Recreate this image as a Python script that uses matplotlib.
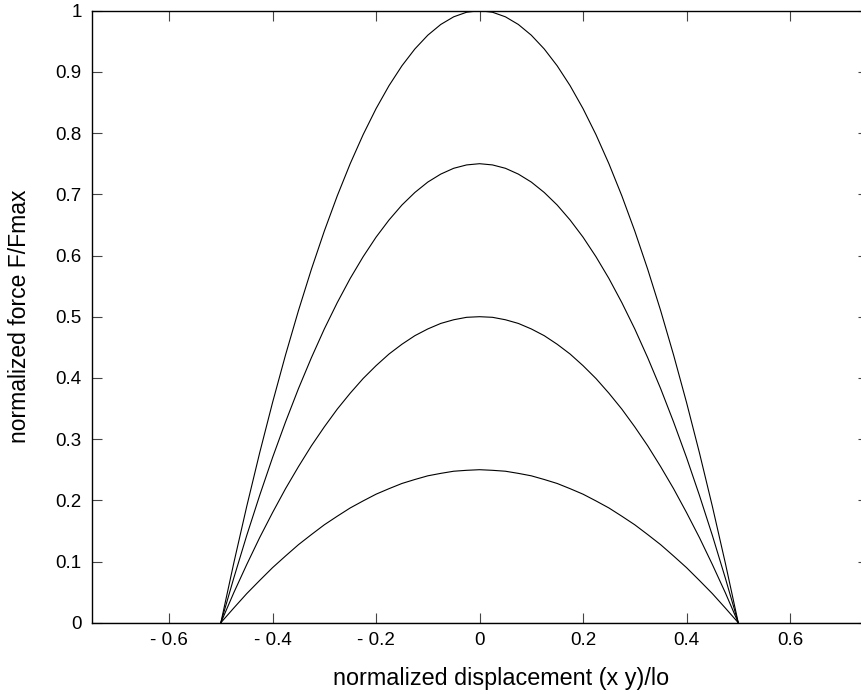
import matplotlib
matplotlib.use("Agg")
import matplotlib.pyplot as plt

# values, x step 0.025
x_curve = [-0.500, -0.475, -0.450, -0.425, -0.400, -0.375, -0.350, -0.325, -0.300, -0.275,
           -0.250, -0.225, -0.200, -0.175, -0.150, -0.125, -0.100, -0.075, -0.050, -0.025,
           0.000,
           0.025, 0.050, 0.075, 0.100, 0.125, 0.150, 0.175, 0.200, 0.225, 0.250,
           0.275, 0.300, 0.325, 0.350, 0.375, 0.400, 0.425, 0.450, 0.475, 0.500]
f_100 = [0.0, 0.0975, 0.19, 0.2775, 0.36, 0.4375, 0.51, 0.5775, 0.64, 0.6975,
         0.75, 0.7975, 0.84, 0.8775, 0.91, 0.9375, 0.96, 0.9775, 0.99, 0.9975,
         1.0,
         0.9975, 0.99, 0.9775, 0.96, 0.9375, 0.91, 0.8775, 0.84, 0.7975, 0.75,
         0.6975, 0.64, 0.5775, 0.51, 0.4375, 0.36, 0.2775, 0.19, 0.0975, 0.0]
f_075 = [0.0, 0.073, 0.1425, 0.208, 0.27, 0.328, 0.3825, 0.433, 0.48, 0.523,
         0.5625, 0.598, 0.63, 0.658, 0.6825, 0.703, 0.72, 0.733, 0.7425, 0.748,
         0.75,
         0.748, 0.7425, 0.733, 0.72, 0.703, 0.6825, 0.658, 0.63, 0.598, 0.5625,
         0.523, 0.48, 0.433, 0.3825, 0.328, 0.27, 0.208, 0.1425, 0.073, 0.0]
f_050 = [0.0, 0.049, 0.095, 0.139, 0.18, 0.219, 0.255, 0.289, 0.32, 0.349,
         0.375, 0.399, 0.42, 0.439, 0.455, 0.469, 0.48, 0.489, 0.495, 0.499,
         0.5,
         0.499, 0.495, 0.489, 0.48, 0.469, 0.455, 0.439, 0.42, 0.399, 0.375,
         0.349, 0.32, 0.289, 0.255, 0.219, 0.18, 0.139, 0.095, 0.049, 0.0]
f_025 = [0.0, 0.024, 0.0475, 0.069, 0.09, 0.109, 0.1275, 0.144, 0.16, 0.174,
         0.1875, 0.199, 0.21, 0.219, 0.2275, 0.234, 0.24, 0.244, 0.2475, 0.249,
         0.25,
         0.249, 0.2475, 0.244, 0.24, 0.234, 0.2275, 0.219, 0.21, 0.199, 0.1875,
         0.174, 0.16, 0.144, 0.1275, 0.109, 0.09, 0.069, 0.0475, 0.024, 0.0]
x_flat = [-0.75, -0.50, 0.50, 0.75]
f_flat = [0.0, 0.0, 0.0, 0.0]

x_ticks = [-0.6, -0.4, -0.2, 0.0, 0.2, 0.4, 0.6]
x_ticklabels = ["- 0.6", "- 0.4", "- 0.2", "0", "0.2", "0.4", "0.6"]
y_ticks = [0.0, 0.1, 0.2, 0.3, 0.4, 0.5, 0.6, 0.7, 0.8, 0.9, 1.0]
y_ticklabels = ["0", "0.1", "0.2", "0.3", "0.4", "0.5", "0.6", "0.7", "0.8", "0.9", "1"]

plt.rcParams["font.family"] = ["Liberation Sans", "DejaVu Sans"]

W, H = 862, 694
fig = plt.figure(figsize=(W / 100, H / 100), dpi=100)
# axes runs slightly past the right edge of the figure, as in the reference
ax = fig.add_axes([91.5 / W, (H - 622.7) / H, (867.6 - 91.5) / W, (622.7 - 10.7) / H])

for f in (f_100, f_075, f_050, f_025):
    ax.plot(x_curve, f, color="black", lw=0.8)
ax.plot(x_flat, f_flat, color="black", lw=0.8)

ax.set_xlim(-0.75, 0.75)
ax.set_ylim(0, 1)
ax.set_xticks(x_ticks)
ax.set_xticklabels(x_ticklabels)
ax.set_yticks(y_ticks)
ax.set_yticklabels(y_ticklabels)
ax.tick_params(direction="in", length=7, width=0.8, top=True, right=True,
               labelsize=13.5, pad=7, color="#444444")
for s in ax.spines.values():
    s.set_linewidth(1.0)

ax.set_xlabel("normalized displacement (x y)/lo", fontsize=16.8)
ax.xaxis.set_label_coords(0.528, -0.072)
ax.set_ylabel("normalized force F/Fmax", fontsize=16.5, labelpad=18)

fig.savefig("out.png", dpi=100)
